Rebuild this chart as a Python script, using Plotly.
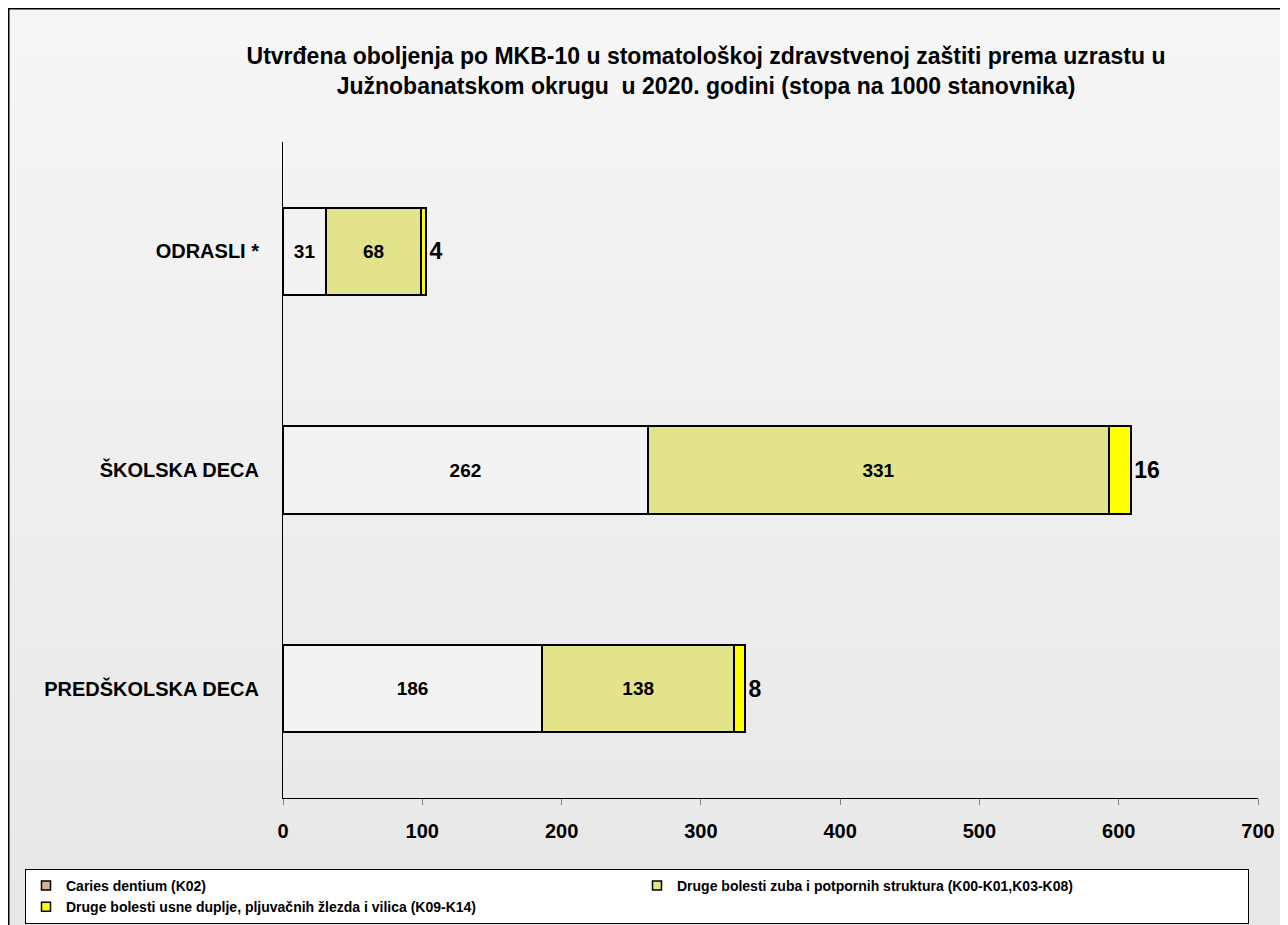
import plotly.graph_objects as go

categories = ["PREDŠKOLSKA DECA", "ŠKOLSKA DECA", "ODRASLI *"]
caries = [186, 262, 31]
druge_zuba = [138, 331, 68]
druge_usne = [8, 16, 4]
series_names = [
    "Caries dentium (K02)",
    "Druge bolesti zuba i potpornih struktura (K00-K01,K03-K08)",
    "Druge bolesti usne duplje, pljuvačnih žlezda i vilica (K09-K14)",
]
tick_vals = [0, 100, 200, 300, 400, 500, 600, 700]

# figure sits inside the page body (8px margin)
W, H = 1280, 917
ML, MR, MT, MB = 275, 30, 134, 127
PW, PH = W - ML - MR, H - MT - MB

def px_x(p):
    return (p - ML) / PW

def px_y(p):
    return (H - MB - p) / PH

FONT = "Liberation Sans, Arial, sans-serif"
bar_colors = ["#F3F3F3", "#E2E38A", "#FFFF00"]
legend_colors = ["#D9B48E", "#E2E38A", "#FFFF00"]

fig = go.Figure()
for name, vals, col, tfs, tpos in [
    (series_names[0], caries, bar_colors[0], 19, "inside"),
    (series_names[1], druge_zuba, bar_colors[1], 19, "inside"),
    (series_names[2], druge_usne, bar_colors[2], 23, "outside"),
]:
    fig.add_trace(go.Bar(
        y=categories, x=vals, orientation="h", name=name, showlegend=False,
        marker=dict(color=col, line=dict(color="#000000", width=2)),
        text=[str(v) for v in vals], textposition=tpos, textangle=0,
        insidetextanchor="middle", constraintext="none", cliponaxis=False,
        textfont=dict(family=FONT, size=tfs, color="#000000", weight="bold"),
    ))

for name, col in zip(series_names, legend_colors):
    fig.add_trace(go.Scatter(
        x=[None], y=[None], mode="markers", name=name,
        marker=dict(symbol="square", size=9, color=col, line=dict(color="#000000", width=1.5)),
    ))

# subtle vertical background gradient
shapes = []
n_bands = 40
top_c, bot_c = 246, 231
for i in range(n_bands):
    c = round(top_c + (bot_c - top_c) * i / (n_bands - 1))
    y_top = i * H / n_bands
    y_bot = (i + 1) * H / n_bands + 1
    shapes.append(dict(
        type="rect", xref="paper", yref="paper",
        x0=px_x(0), x1=px_x(W), y0=px_y(y_bot), y1=px_y(y_top),
        line=dict(width=0), fillcolor=f"rgb({c},{c},{c})", layer="below",
    ))
# outer frame (left and top edges visible)
shapes.append(dict(type="line", xref="paper", yref="paper",
                   x0=px_x(0.75), x1=px_x(0.75), y0=px_y(H), y1=px_y(0),
                   line=dict(color="#000000", width=1.5), layer="above"))
shapes.append(dict(type="line", xref="paper", yref="paper",
                   x0=px_x(0), x1=px_x(W), y0=px_y(0.75), y1=px_y(0.75),
                   line=dict(color="#000000", width=1.5), layer="above"))

fig.update_layout(
    width=W, height=H,
    margin=dict(l=ML, r=MR, t=MT, b=MB, autoexpand=False),
    barmode="stack", bargap=0.6,
    paper_bgcolor="#EEEEEE", plot_bgcolor="rgba(0,0,0,0)",
    font=dict(family=FONT, color="#000000"),
    title=dict(
        text="Utvrđena oboljenja po MKB-10 u stomatološkoj zdravstvenoj zaštiti prema uzrastu u<br>Južnobanatskom okrugu  u 2020. godini (stopa na 1000 stanovnika)",
        x=698 / W, xanchor="center",
        y=1 - 56 / H, yanchor="middle",
        font=dict(family=FONT, size=23, color="#000000", weight="bold"),
    ),
    xaxis=dict(
        range=[0, 700], tickvals=tick_vals, ticks="outside", ticklen=6, tickcolor="#808080",
        showline=True, linecolor="#000000", linewidth=1, showgrid=False, zeroline=False,
        tickfont=dict(family=FONT, size=20, color="#000000", weight="bold"),
        ticklabelstandoff=9,
    ),
    yaxis=dict(
        range=[-0.5, 2.5], showline=True, linecolor="#000000", linewidth=1,
        showgrid=False, zeroline=False, ticks="",
        tickfont=dict(family=FONT, size=20, color="#000000", weight="bold"),
        ticklabelstandoff=19,
    ),
    legend=dict(
        orientation="h", x=px_x(17), xanchor="left", y=px_y(861), yanchor="top",
        bgcolor="#FFFFFF", bordercolor="#000000", borderwidth=1,
        entrywidth=566, entrywidthmode="pixels", itemwidth=30, tracegroupgap=0,
        font=dict(family=FONT, size=14, color="#000000", weight="bold"),
        traceorder="normal",
    ),
    shapes=shapes,
)

fig.write_html("out.html")
